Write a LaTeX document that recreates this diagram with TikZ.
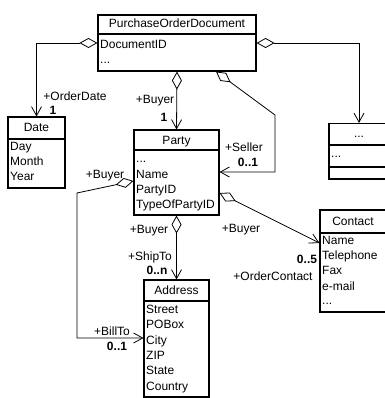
\documentclass[tikz,border=0pt]{standalone}
\usepackage{fontspec}
\setmainfont{Liberation Sans}
\usetikzlibrary{arrows.meta}

\begin{document}
\begin{tikzpicture}[x=1pt,y=-1pt,
  txt/.style={inner sep=0pt, font=\fontsize{12}{14}\selectfont, text height=8.6pt, text depth=2.4pt},
  attr/.style={txt, anchor=west},
  lbl/.style={txt},
  mult/.style={txt, font=\fontsize{12}{14}\selectfont\bfseries},
  cls/.style={draw, line width=1.1pt, inner sep=0pt},
  sep/.style={line width=1.1pt},
  assoc/.style={line width=0.8pt,
    {Diamond[open,length=18pt,width=10pt]}-{Straight Barb[length=9pt,width=10pt]}},
]
\useasboundingbox (0,0) rectangle (384,398);

% PurchaseOrderDocument
\node[cls, minimum width=158pt, minimum height=56pt] (po) at (177,43) {};
\draw[sep] (98,34) -- (256,34);
\node[txt] (poT) at (177,24.5) {PurchaseOrderDocument};
\node[attr] (poA1) at (100,45) {DocumentID};
\node[attr] (poA2) at (100,60) {...};

% Date
\node[cls, minimum width=57pt, minimum height=71pt] (date) at (36.5,152.5) {};
\draw[sep] (8,139) -- (65,139);
\node[txt] (dateT) at (36.5,128) {Date};
\node[attr] (dateA1) at (10,147) {Day};
\node[attr] (dateA2) at (10,162) {Month};
\node[attr] (dateA3) at (10,177) {Year};

% Party
\node[cls, minimum width=85pt, minimum height=85pt] (party) at (176.5,172.5) {};
\draw[sep] (134,150) -- (219,150);
\node[txt] (partyT) at (176.5,141) {Party};
\node[attr] (partyA1) at (136,159) {...};
\node[attr] (partyA2) at (136,175) {Name};
\node[attr] (partyA3) at (136,190) {PartyID};
\node[attr] (partyA4) at (136,205) {TypeOfPartyID};

% Address
\node[cls, minimum width=65pt, minimum height=117pt] (address) at (176.5,338.5) {};
\draw[sep] (144,301) -- (209,301);
\node[txt] (addrT) at (176.5,291) {Address};
\node[attr] (addrA1) at (146,310) {Street};
\node[attr] (addrA2) at (146,325) {POBox};
\node[attr] (addrA3) at (146,341) {City};
\node[attr] (addrA4) at (146,356) {ZIP};
\node[attr] (addrA5) at (146,371) {State};
\node[attr] (addrA6) at (146,387) {Country};

% Contact
\node[cls, minimum width=66pt, minimum height=102pt] (contact) at (353,261) {};
\draw[sep] (320,233) -- (386,233);
\node[txt] (contT) at (353,222) {Contact};
\node[attr] (contA1) at (322,241) {Name};
\node[attr] (contA2) at (322,256) {Telephone};
\node[attr] (contA3) at (322,271) {Fax};
\node[attr] (contA4) at (322,287) {e-mail};
\node[attr] (contA5) at (322,301) {...};

% unnamed class
\node[cls, minimum width=60pt, minimum height=56pt] (other) at (359,151.5) {};
\draw[sep] (329,145) -- (389,145);
\draw[sep] (329,167) -- (389,167);
\draw[line width=2.2pt] (329,179) -- (389,179);
\node[txt] (otherT) at (359,134) {...};
\node[attr] (otherA1) at (331,154) {...};

% bend points
\coordinate (sx) at (216,0);
\coordinate (sk1) at (275,115);
\coordinate (sk2) at (275,172);
\coordinate (bt0) at (0,181);
\coordinate (bk1) at (77,193);
\coordinate (bk2) at (77,338);
\coordinate (ct0) at (0,193);
\coordinate (ct1) at (0,243);

% associations
\draw[assoc] (po.west) -| (date.north);
\draw[assoc] (po.east) -| (other.north);
\draw[assoc] (po.south) -- (party.north);
\draw[assoc] (po.south -| sx) -- (sk1) -- (sk2) -- (party.east |- sk2);
\draw[assoc] (party.south) -- (address.north);
\draw[assoc] (party.west |- bt0) -- (bk1) -- (bk2) -- (address.west |- bk2);
\draw[assoc] (party.east |- ct0) -- (contact.west |- ct1);

% role names and multiplicities
\node[lbl] (lOrderDate) at (75,97) {+OrderDate};
\node[mult] (mOrderDate) at (53,111) {1};
\node[lbl] (lBuyerPO) at (155,100) {+Buyer};
\node[mult] (mBuyerPO) at (164,118) {1};
\node[lbl] (lSeller) at (244,148) {+Seller};
\node[mult] (mSeller) at (248,163) {0..1};
\node[lbl] (lBuyerBill) at (105,175) {+Buyer};
\node[lbl] (lBillTo) at (112,332) {+BillTo};
\node[mult] (mBillTo) at (117,347) {0..1};
\node[lbl] (lBuyerShip) at (149,230) {+Buyer};
\node[lbl] (lShipTo) at (150,257) {+ShipTo};
\node[mult] (mShipTo) at (157,271) {0..n};
\node[lbl] (lBuyerCont) at (241,229) {+Buyer};
\node[mult] (mCont) at (307,260) {0..5};
\node[lbl] (lOrderCont) at (273,277) {+OrderContact};
\end{tikzpicture}
\end{document}
